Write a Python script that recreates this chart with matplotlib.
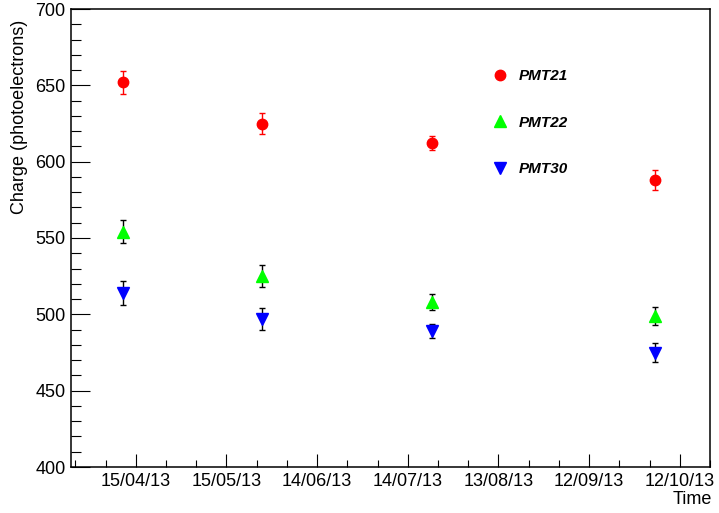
import datetime as dt
import matplotlib
matplotlib.use('Agg')
import matplotlib.pyplot as plt
from matplotlib.lines import Line2D

plt.rcParams['font.family'] = ['Liberation Sans', 'DejaVu Sans']

# run dates and measured charge (photoelectrons)
dates = [dt.datetime(2013, 4, 10, 15), dt.datetime(2013, 5, 26, 19),
         dt.datetime(2013, 7, 22, 0), dt.datetime(2013, 10, 3, 19)]
pmt21 = [652, 625, 612, 588]
pmt21_err = [7.5, 7, 4.5, 6.5]
pmt22 = [554, 525, 508, 499]
pmt22_err = [7.5, 7, 5, 6]
pmt30 = [514, 497, 489, 475]
pmt30_err = [8, 7, 4.5, 6.5]

tick_labels = ['15/04/13', '15/05/13', '14/06/13', '14/07/13',
               '13/08/13', '12/09/13', '12/10/13']
tick_dates = [dt.datetime.strptime(s, '%d/%m/%y') for s in tick_labels]

fig = plt.figure(figsize=(7.19, 5.13), dpi=100)
ax = fig.add_axes([71/719, 46/513, 639/719, 458/513])

ax.errorbar(dates, pmt21, yerr=pmt21_err, fmt='o', color='red', ecolor='red',
            markersize=7.5, elinewidth=1, capsize=2, capthick=1)
ax.errorbar(dates, pmt22, yerr=pmt22_err, fmt='^', color='#00ff00', ecolor='black',
            markersize=9, elinewidth=1, capsize=2, capthick=1)
ax.errorbar(dates, pmt30, yerr=pmt30_err, fmt='v', color='blue', ecolor='black',
            markersize=9, elinewidth=1, capsize=2, capthick=1)

ax.set_ylim(400, 700)
ax.set_xlim(dt.datetime(2013, 3, 24, 14), dt.datetime(2013, 10, 21, 7))

ax.set_yticks(range(400, 701, 50))
ax.set_yticks(range(400, 701, 10), minor=True)
ax.set_xticks(tick_dates)
ax.set_xticklabels(tick_labels)
# minor ticks every 10 days
minor = [tick_dates[0] + dt.timedelta(days=10 * k) for k in range(-2, 20)]
ax.set_xticks(minor, minor=True)

ax.tick_params(axis='both', which='both', direction='in', labelsize=13, width=0.8)
ax.tick_params(axis='y', which='major', length=13.5, pad=4)
ax.tick_params(axis='y', which='minor', length=7)
ax.tick_params(axis='x', which='major', length=9.5, pad=4)
ax.tick_params(axis='x', which='minor', length=4.7)
ax.tick_params(top=False, right=False, which='both')
for sp in ax.spines.values():
    sp.set_linewidth(1.1)

ax.set_ylabel('Charge (photoelectrons)', fontsize=13, loc='top')
ax.yaxis.set_label_coords(-0.068, 0.976)
ax.set_xlabel('Time', fontsize=13, loc='right')
ax.xaxis.set_label_coords(1.003, -0.053)

handles = [Line2D([], [], marker='o', color='red', ls='none', markersize=7.5),
           Line2D([], [], marker='^', color='#00ff00', ls='none', markersize=9),
           Line2D([], [], marker='v', color='blue', ls='none', markersize=9)]
leg = ax.legend(handles, ['PMT21', 'PMT22', 'PMT30'], loc='upper left',
                bbox_to_anchor=(0.647, 0.886), frameon=False, handlelength=1,
                handletextpad=0.75, labelspacing=2.14, borderpad=0,
                prop={'size': 11, 'weight': 'bold', 'style': 'italic'})

fig.savefig('out.png', dpi=100)
